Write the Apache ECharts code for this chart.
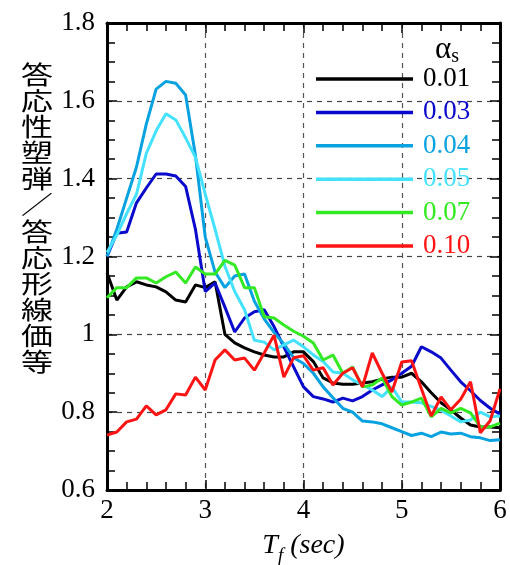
<!DOCTYPE html>
<html>
<head>
<meta charset="utf-8">
<script src="https://cdn.jsdelivr.net/npm/echarts@6/dist/echarts.min.js"></script>
<style>html,body{margin:0;padding:0;background:#fff;}#c{width:510px;height:565px;}</style>
</head>
<body>
<div id="c"></div>
<script>
const tf = [2.0,2.1,2.2,2.3,2.4,2.5,2.6,2.7,2.8,2.9,3.0,3.1,3.2,3.3,3.4,3.5,3.6,3.7,3.8,3.9,4.0,4.1,4.2,4.3,4.4,4.5,4.6,4.7,4.8,4.9,5.0,5.1,5.2,5.3,5.4,5.5,5.6,5.7,5.8,5.9,6.0];
const a001 = [1.158,1.088,1.122,1.135,1.127,1.122,1.109,1.088,1.083,1.127,1.12,1.135,1.0,0.978,0.965,0.955,0.947,0.942,0.942,0.955,0.955,0.93,0.888,0.875,0.872,0.872,0.875,0.878,0.885,0.89,0.89,0.90,0.878,0.85,0.824,0.806,0.785,0.767,0.762,0.762,0.76];
const a003 = [1.20,1.26,1.263,1.338,1.376,1.412,1.412,1.407,1.38,1.27,1.11,1.132,1.07,1.006,1.042,1.058,1.063,1.02,0.968,0.916,0.865,0.84,0.834,0.826,0.836,0.829,0.84,0.857,0.87,0.883,0.90,0.918,0.968,0.955,0.939,0.908,0.878,0.855,0.83,0.81,0.795];
const a004 = [1.20,1.27,1.35,1.43,1.54,1.63,1.65,1.645,1.615,1.46,1.25,1.16,1.12,1.15,1.155,1.085,1.04,1.005,0.975,0.94,0.925,0.9,0.865,0.837,0.81,0.8,0.777,0.775,0.77,0.76,0.75,0.74,0.746,0.737,0.749,0.744,0.746,0.737,0.734,0.727,0.729];
const a005 = [1.21,1.255,1.31,1.36,1.465,1.523,1.567,1.551,1.505,1.455,1.36,1.27,1.175,1.11,1.063,0.985,0.98,0.96,0.973,0.985,0.968,0.947,0.93,0.903,0.9,0.883,0.87,0.857,0.84,0.865,0.826,0.826,0.824,0.815,0.805,0.79,0.775,0.78,0.80,0.788,0.79];
const a007 = [1.094,1.12,1.12,1.145,1.145,1.132,1.148,1.16,1.132,1.173,1.155,1.155,1.19,1.178,1.12,1.12,1.045,1.042,1.024,1.008,0.995,0.978,0.934,0.947,0.90,0.916,0.865,0.87,0.888,0.84,0.818,0.826,0.836,0.788,0.81,0.798,0.81,0.798,0.762,0.762,0.772];
const a010 = [0.741,0.749,0.775,0.782,0.816,0.793,0.806,0.847,0.844,0.89,0.857,0.934,0.96,0.934,0.939,0.908,0.952,0.998,0.89,0.94,0.945,0.908,0.914,0.87,0.90,0.914,0.865,0.952,0.90,0.852,0.929,0.932,0.86,0.79,0.839,0.806,0.833,0.878,0.747,0.778,0.86];
const seriesNames = ['0.01','0.03','0.04','0.05','0.07','0.10'];
const seriesValues = [a001,a003,a004,a005,a007,a010];
const xTicks = [2,3,4,5,6];
const yTicks = [0.6,0.8,1.0,1.2,1.4,1.6,1.8];
const yTitle = '答応性塑弾／答応形線価等';

const colors = ['#000000','#0a0acc','#08a2e0','#44e2ff','#33ea22','#ff1414'];
const serif = '"Liberation Serif", "Times New Roman", "DejaVu Serif", serif';

const chart = echarts.init(document.getElementById('c'), null, {renderer:'canvas'});

function xAxisCfg(pos, labels){
  return {
    type:'value', position:pos, min:xTicks[0], max:xTicks[xTicks.length-1], interval:1,
    axisLine:{show:true, onZero:false, lineStyle:{color:'#000', width:3}},
    axisTick:{show:true, inside:true, length:10, lineStyle:{color:'#000', width:1.5}},
    minorTick:{show:true, splitNumber:5, length:8, lineStyle:{color:'#000', width:1.5}},
    splitLine:{show:labels, lineStyle:{color:'#555', width:1.2, type:[5,5]}},
    axisLabel:{show:labels, color:'#000', fontFamily:serif, fontSize:27, margin:7},
    name: labels ? '{t|T}{f|f}{r| (sec)}' : '',
    nameLocation:'middle', nameGap:37,
    nameTextStyle:{rich:{
      t:{fontFamily:serif, fontStyle:'italic', fontSize:28, color:'#000', lineHeight:38, verticalAlign:'middle'},
      f:{fontFamily:serif, fontStyle:'italic', fontSize:19, color:'#000', lineHeight:38, verticalAlign:'bottom'},
      r:{fontFamily:serif, fontStyle:'italic', fontSize:28, color:'#000', lineHeight:38, verticalAlign:'middle'}
    }}
  };
}
function yAxisCfg(pos, labels){
  return {
    type:'value', position:pos, min:yTicks[0], max:yTicks[yTicks.length-1], interval:0.2,
    axisLine:{show:true, onZero:false, lineStyle:{color:'#000', width:3}},
    axisTick:{show:true, inside:true, length:10, lineStyle:{color:'#000', width:1.5}},
    minorTick:{show:true, splitNumber:4, length:8, lineStyle:{color:'#000', width:1.5}},
    splitLine:{show:labels, lineStyle:{color:'#444', width:1.2, type:[5,5]}},
    axisLabel:{show:labels, color:'#000', fontFamily:serif, fontSize:27, margin:12,
      formatter:function(v){ return Math.abs(v-1)<1e-9 ? '1' : (Math.round(v*10)/10).toFixed(1); }}
  };
}

const option = {
  backgroundColor:'#fff',
  animation:false,
  grid:{left:107, right:10, top:23, bottom:75, containLabel:false, outerBoundsMode:'none'},
  xAxis:[xAxisCfg('bottom', true), xAxisCfg('top', false)],
  yAxis:[yAxisCfg('left', true), yAxisCfg('right', false)],
  legend:{
    orient:'vertical', left:316, top:65.5, padding:0, icon:'rect', itemWidth:97, itemHeight:3.5, itemGap:6.4,
    textStyle:{fontFamily:serif, fontSize:27, padding:[0,0,0,5]},
    data: seriesNames.map((n,i)=>({name:n, textStyle:{color:colors[i]}})),
    selectedMode:false
  },
  graphic:[
    {type:'text', x:37, y:218, scaleX:1.28, style:{text:yTitle.split('').join('\n'), font:'25px "Noto Sans CJK JP"', lineHeight:26.1, fill:'#000', textAlign:'center', textVerticalAlign:'middle'}},
    {type:'text', x:435, y:50, style:{text:'{a|α}{s|s}', fill:'#000', textVerticalAlign:'middle', textAlign:'left',
      rich:{a:{fontFamily:serif, fontSize:31, lineHeight:34, verticalAlign:'middle', fill:'#000'}, s:{fontFamily:serif, fontSize:20, lineHeight:34, verticalAlign:'bottom', fill:'#000'}}}}
  ],
  series: seriesNames.map((n,i)=>({
    name:n, type:'line', xAxisIndex:0, yAxisIndex:0, symbol:'none', smooth:false,
    color:colors[i], lineStyle:{color:colors[i], width:3}, z:2+i,
    data: tf.map((x,k)=>[x, seriesValues[i][k]])
  }))
};
chart.setOption(option);
</script>
</body>
</html>
